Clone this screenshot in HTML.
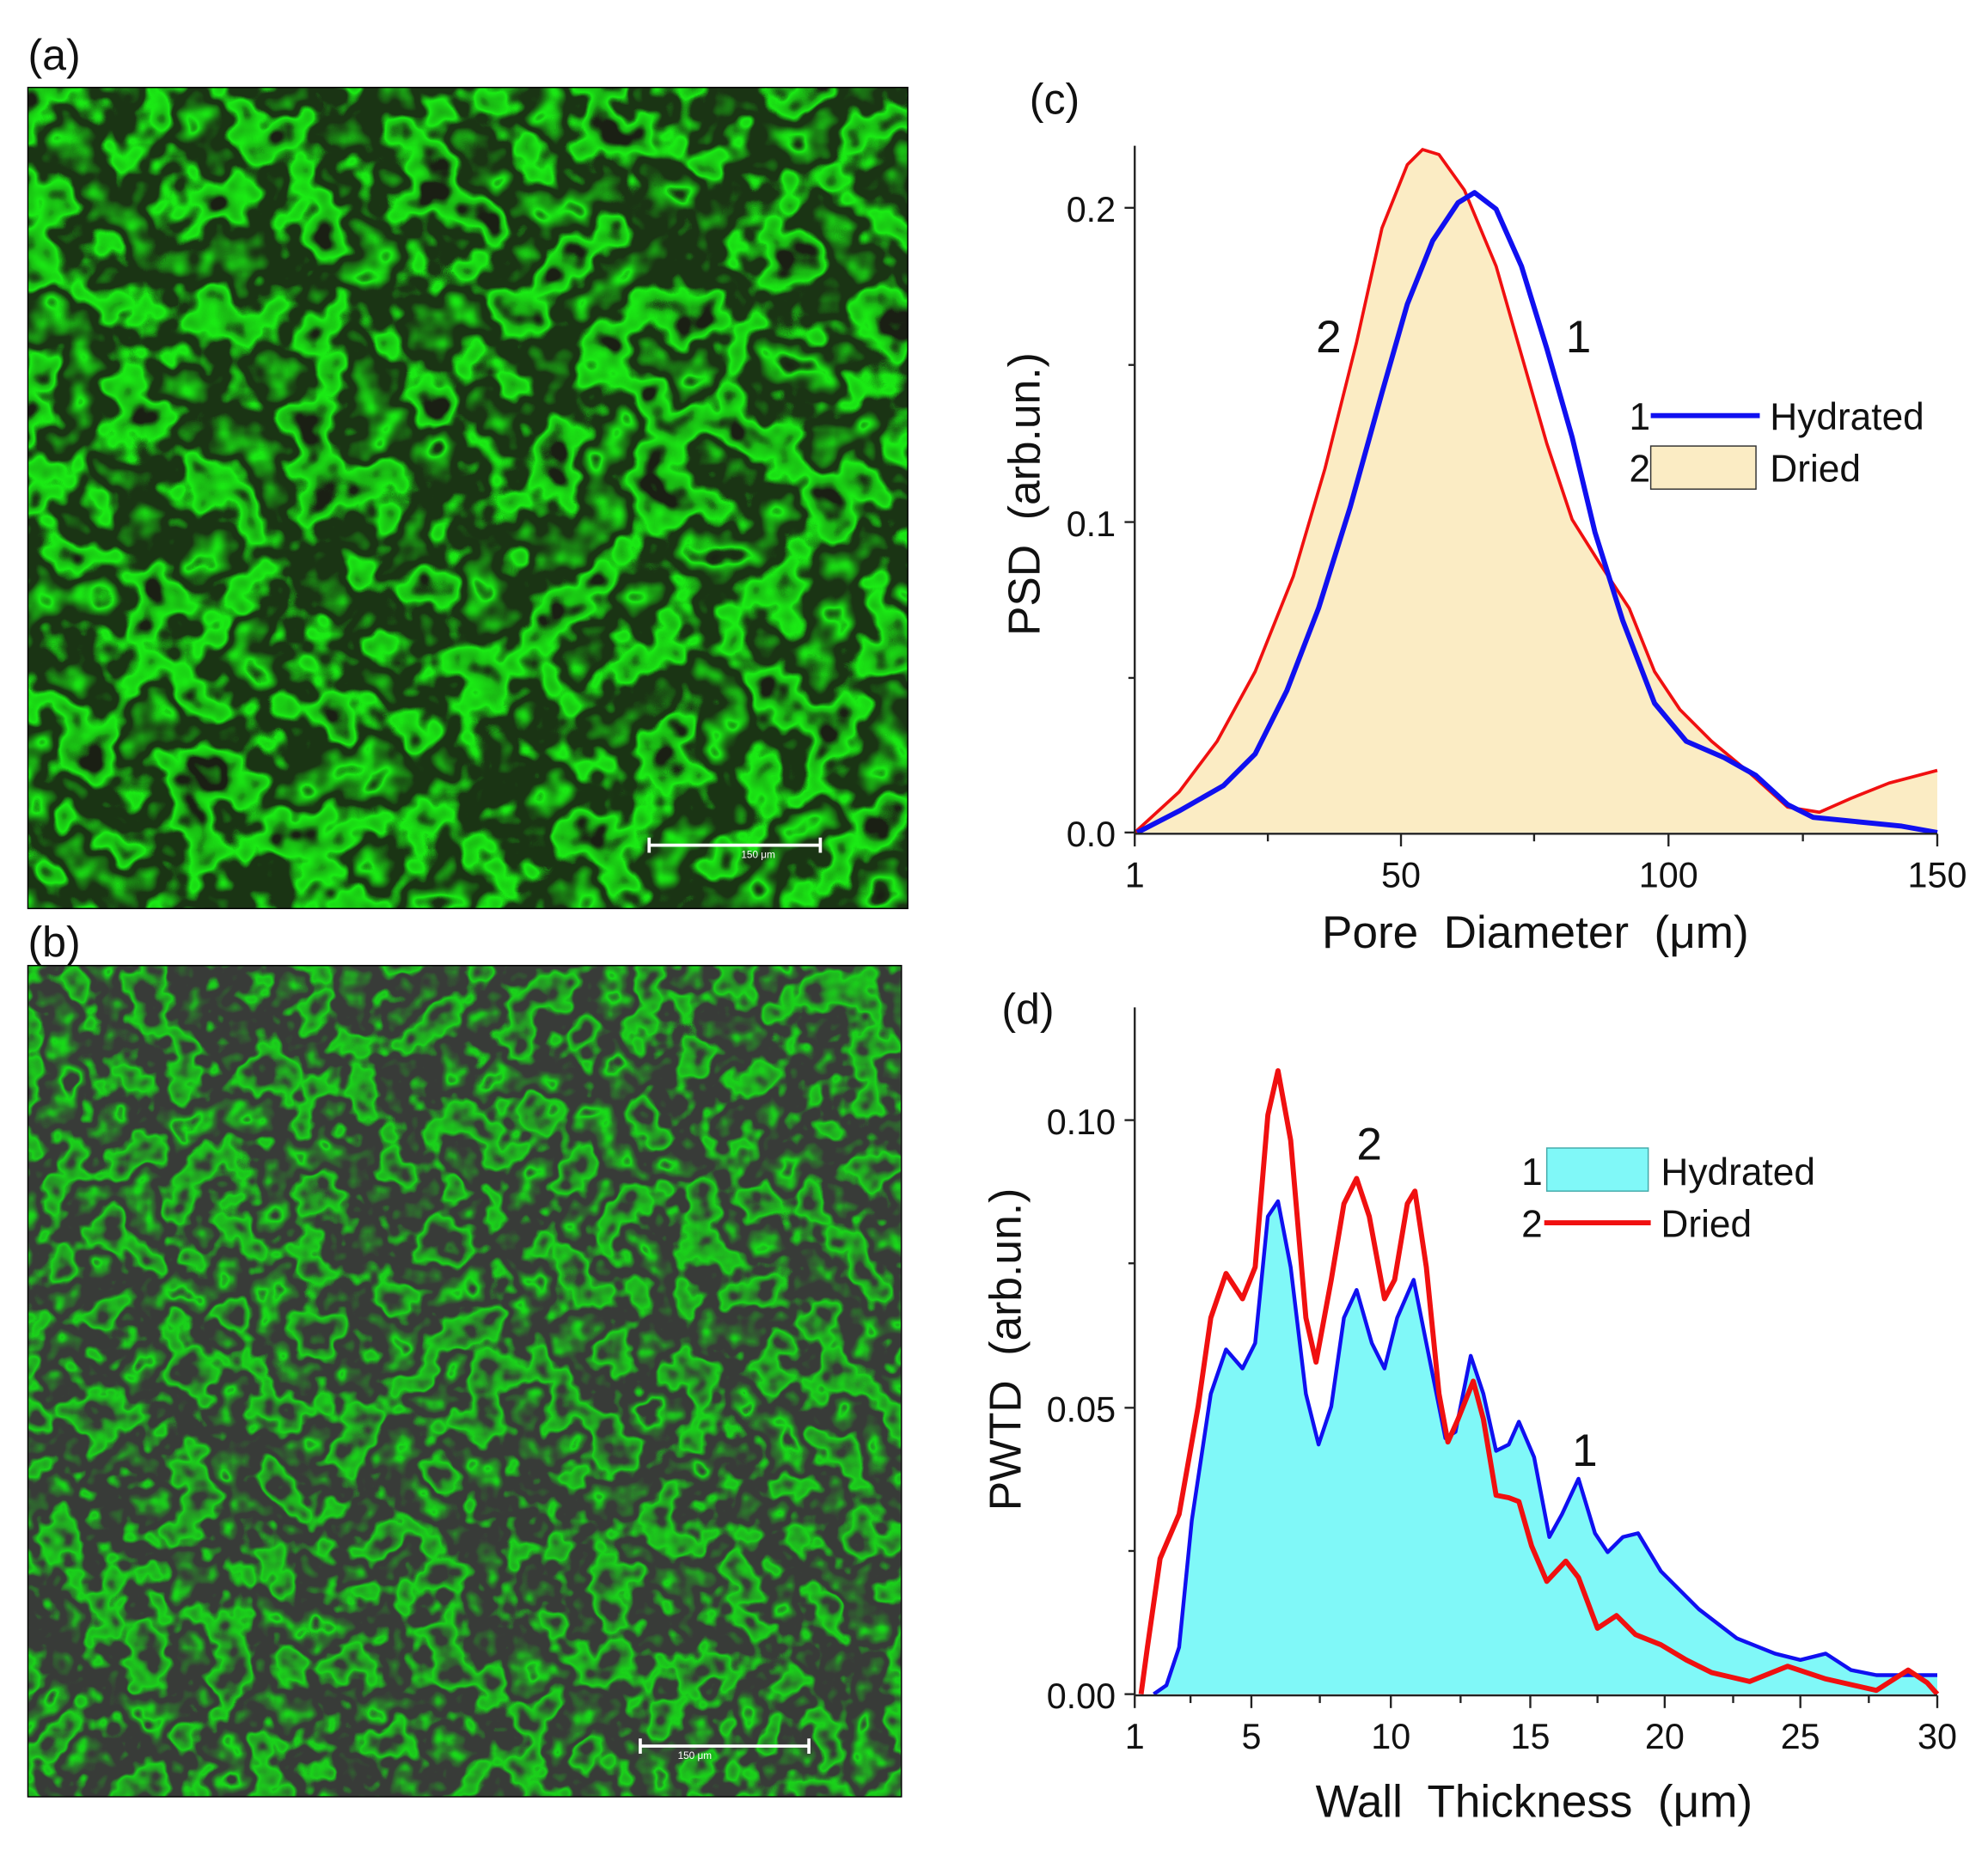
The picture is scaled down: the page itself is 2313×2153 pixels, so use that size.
<!DOCTYPE html>
<html><head><meta charset="utf-8"><style>
html,body{margin:0;padding:0;background:#fff}
svg{display:block}
text{font-family:"Liberation Sans",Arial,sans-serif;fill:#111}
</style></head><body>
<svg width="2313" height="2153" viewBox="0 0 1568 1460" preserveAspectRatio="none" xmlns="http://www.w3.org/2000/svg">
<defs>
<filter id="netA" x="0" y="0" width="100%" height="100%" color-interpolation-filters="sRGB">
<feTurbulence type="fractalNoise" baseFrequency="0.022" numOctaves="3" seed="7" result="n"/>
<feComponentTransfer in="n">
<feFuncR type="table" tableValues="0 0 0.1 0.95 0.5 0.1 0.1 0.95 0.7 0 0 0.5 0"/>
</feComponentTransfer>
<feColorMatrix values="0 0 0 0 0.1  0.85 0 0 0 0.12  0 0 0 0 0.08  0 0 0 0 1"/>
</filter>
<filter id="netB" x="0" y="0" width="100%" height="100%" color-interpolation-filters="sRGB">
<feTurbulence type="fractalNoise" baseFrequency="0.03" numOctaves="3" seed="19" result="n"/>
<feComponentTransfer in="n">
<feFuncR type="table" tableValues="0 0 0 0.85 0.3 0 0 0.8 0.5 0 0 0.3 0"/>
</feComponentTransfer>
<feColorMatrix values="-0.15 0 0 0 0.22  0.75 0 0 0 0.23  -0.15 0 0 0 0.22  0 0 0 0 1"/>
</filter>
</defs>
<rect width="1568" height="1460" fill="#fff"/>

<!-- (a) -->
<text x="22" y="55" font-size="34">(a)</text>
<rect x="22" y="69" width="694" height="648" filter="url(#netA)"/>
<rect x="22" y="69" width="694" height="648" fill="none" stroke="#000" stroke-width="1"/>
<g stroke="#fff" stroke-width="2.5"><line x1="512" y1="667" x2="647" y2="667"/><line x1="512" y1="661" x2="512" y2="673"/><line x1="647" y1="661" x2="647" y2="673"/></g>
<text x="598" y="677" font-size="8" style="fill:#fff" text-anchor="middle">150 μm</text>

<!-- (b) -->
<text x="22" y="755" font-size="34">(b)</text>
<rect x="22" y="762" width="689" height="656" filter="url(#netB)"/>
<rect x="22" y="762" width="689" height="656" fill="none" stroke="#000" stroke-width="1"/>
<g stroke="#fff" stroke-width="2.5"><line x1="505" y1="1378" x2="638" y2="1378"/><line x1="505" y1="1372" x2="505" y2="1384"/><line x1="638" y1="1372" x2="638" y2="1384"/></g>
<text x="548" y="1388" font-size="8" style="fill:#fff" text-anchor="middle">150 μm</text>

<!-- (c) -->
<text x="812" y="90" font-size="34">(c)</text>
<polygon fill="#fbecc4" points="895,657 930,625 960,585 990,530 1020,455 1045,370 1070,270 1090,180 1110,130 1122,118 1135,122 1155,150 1180,210 1200,280 1220,350 1240,410 1262,445 1285,480 1305,530 1325,560 1350,585 1380,610 1410,637 1435,641 1460,630 1490,618 1528,608 1528,657"/>
<polyline fill="none" stroke="#f01010" stroke-width="2.5" stroke-linejoin="round" points="895,657 930,625 960,585 990,530 1020,455 1045,370 1070,270 1090,180 1110,130 1122,118 1135,122 1155,150 1180,210 1200,280 1220,350 1240,410 1262,445 1285,480 1305,530 1325,560 1350,585 1380,610 1410,637 1435,641 1460,630 1490,618 1528,608"/>
<polyline fill="none" stroke="#1010f0" stroke-width="4" stroke-linejoin="round" points="897,657 930,640 965,620 990,595 1015,545 1040,480 1065,400 1090,310 1110,240 1130,190 1150,160 1163,152 1180,165 1200,210 1220,275 1240,345 1258,420 1280,490 1305,555 1330,585 1360,598 1385,612 1410,635 1430,645 1460,648 1500,652 1528,657"/>
<g stroke="#222" stroke-width="1.6">
<line x1="895" y1="115" x2="895" y2="658"/><line x1="895" y1="658" x2="1528" y2="658"/>
<line x1="887" y1="657" x2="895" y2="657"/><line x1="887" y1="412" x2="895" y2="412"/><line x1="887" y1="164" x2="895" y2="164"/>
<line x1="890" y1="535" x2="895" y2="535"/><line x1="890" y1="288" x2="895" y2="288"/>
<line x1="895" y1="658" x2="895" y2="668"/><line x1="1105" y1="658" x2="1105" y2="668"/><line x1="1316" y1="658" x2="1316" y2="668"/><line x1="1528" y1="658" x2="1528" y2="668"/>
<line x1="1000" y1="658" x2="1000" y2="664"/><line x1="1210" y1="658" x2="1210" y2="664"/><line x1="1422" y1="658" x2="1422" y2="664"/>
</g>
<g font-size="28" text-anchor="end"><text x="880" y="668">0.0</text><text x="880" y="423">0.1</text><text x="880" y="175">0.2</text></g>
<g font-size="28" text-anchor="middle"><text x="895" y="700">1</text><text x="1105" y="700">50</text><text x="1316" y="700">100</text><text x="1528" y="700">150</text></g>
<text x="1211" y="748" font-size="36" text-anchor="middle" xml:space="preserve">Pore  Diameter  (μm)</text>
<text transform="translate(820,390) rotate(-90)" font-size="35" text-anchor="middle" xml:space="preserve">PSD  (arb.un.)</text>
<text x="1048" y="278" font-size="36" text-anchor="middle">2</text>
<text x="1245" y="278" font-size="36" text-anchor="middle">1</text>
<text x="1285" y="339" font-size="30">1</text>
<line x1="1302" y1="328" x2="1388" y2="328" stroke="#1010f0" stroke-width="4"/>
<text x="1396" y="339" font-size="30">Hydrated</text>
<text x="1285" y="380" font-size="30">2</text>
<rect x="1302" y="352" width="83" height="34" fill="#fbecc4" stroke="#333" stroke-width="1"/>
<text x="1396" y="380" font-size="30">Dried</text>

<!-- (d) -->
<text x="790" y="808" font-size="34">(d)</text>
<polygon fill="#80f8f8" points="910,1337 920,1330 930,1300 940,1200 955,1100 967,1065 980,1080 990,1060 1000,960 1008,948 1018,1000 1030,1100 1040,1140 1050,1110 1060,1040 1070,1018 1082,1060 1092,1080 1102,1040 1115,1010 1125,1060 1140,1135 1148,1130 1160,1070 1170,1100 1180,1145 1190,1140 1198,1122 1210,1150 1222,1213 1232,1195 1245,1167 1258,1210 1268,1225 1280,1213 1292,1210 1310,1240 1340,1270 1370,1293 1400,1305 1420,1310 1440,1305 1460,1318 1480,1322 1528,1322 1528,1337"/>
<polyline fill="none" stroke="#1010f0" stroke-width="3" stroke-linejoin="round" points="910,1337 920,1330 930,1300 940,1200 955,1100 967,1065 980,1080 990,1060 1000,960 1008,948 1018,1000 1030,1100 1040,1140 1050,1110 1060,1040 1070,1018 1082,1060 1092,1080 1102,1040 1115,1010 1125,1060 1140,1135 1148,1130 1160,1070 1170,1100 1180,1145 1190,1140 1198,1122 1210,1150 1222,1213 1232,1195 1245,1167 1258,1210 1268,1225 1280,1213 1292,1210 1310,1240 1340,1270 1370,1293 1400,1305 1420,1310 1440,1305 1460,1318 1480,1322 1528,1322"/>
<polyline fill="none" stroke="#f01010" stroke-width="4" stroke-linejoin="round" points="900,1337 905,1300 915,1230 930,1195 945,1110 955,1040 967,1005 980,1025 990,1000 1000,880 1008,845 1018,900 1030,1040 1038,1075 1050,1010 1060,950 1070,930 1080,960 1092,1025 1100,1010 1110,950 1116,940 1125,1000 1135,1100 1142,1138 1150,1120 1162,1090 1170,1120 1180,1180 1190,1182 1198,1185 1208,1220 1220,1248 1235,1232 1245,1245 1260,1285 1275,1275 1290,1290 1310,1298 1330,1310 1350,1320 1380,1327 1410,1315 1440,1325 1480,1334 1505,1318 1520,1328 1528,1337"/>
<g stroke="#222" stroke-width="1.6">
<line x1="895" y1="795" x2="895" y2="1338"/><line x1="895" y1="1338" x2="1528" y2="1338"/>
<line x1="887" y1="1337" x2="895" y2="1337"/><line x1="887" y1="1111" x2="895" y2="1111"/><line x1="887" y1="884" x2="895" y2="884"/>
<line x1="890" y1="1224" x2="895" y2="1224"/><line x1="890" y1="997" x2="895" y2="997"/>
<line x1="895" y1="1338" x2="895" y2="1348"/><line x1="987" y1="1338" x2="987" y2="1348"/><line x1="1097" y1="1338" x2="1097" y2="1348"/><line x1="1207" y1="1338" x2="1207" y2="1348"/><line x1="1313" y1="1338" x2="1313" y2="1348"/><line x1="1420" y1="1338" x2="1420" y2="1348"/><line x1="1528" y1="1338" x2="1528" y2="1348"/>
<line x1="939" y1="1338" x2="939" y2="1344"/><line x1="1041" y1="1338" x2="1041" y2="1344"/><line x1="1152" y1="1338" x2="1152" y2="1344"/><line x1="1260" y1="1338" x2="1260" y2="1344"/><line x1="1367" y1="1338" x2="1367" y2="1344"/><line x1="1474" y1="1338" x2="1474" y2="1344"/>
</g>
<g font-size="28" text-anchor="end"><text x="880" y="1348">0.00</text><text x="880" y="1122">0.05</text><text x="880" y="895">0.10</text></g>
<g font-size="28" text-anchor="middle"><text x="895" y="1380">1</text><text x="987" y="1380">5</text><text x="1097" y="1380">10</text><text x="1207" y="1380">15</text><text x="1313" y="1380">20</text><text x="1420" y="1380">25</text><text x="1528" y="1380">30</text></g>
<text x="1210" y="1434" font-size="36" text-anchor="middle" xml:space="preserve">Wall  Thickness  (μm)</text>
<text transform="translate(805,1065) rotate(-90)" font-size="35" text-anchor="middle" xml:space="preserve">PWTD  (arb.un.)</text>
<text x="1080" y="915" font-size="36" text-anchor="middle">2</text>
<text x="1250" y="1157" font-size="36" text-anchor="middle">1</text>
<text x="1200" y="935" font-size="30">1</text>
<rect x="1220" y="906" width="80" height="34" fill="#80f8f8" stroke="#4aa" stroke-width="1"/>
<text x="1310" y="935" font-size="30">Hydrated</text>
<text x="1200" y="976" font-size="30">2</text>
<line x1="1218" y1="965" x2="1302" y2="965" stroke="#f01010" stroke-width="4"/>
<text x="1310" y="976" font-size="30">Dried</text>
</svg>
</body></html>
